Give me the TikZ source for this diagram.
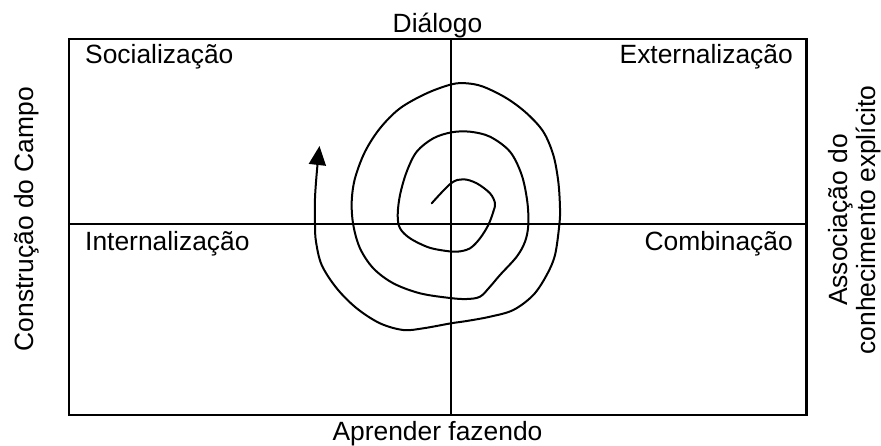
\documentclass[tikz,border=0pt]{standalone}
\usepackage{fontspec}
\setmainfont{Liberation Sans}
\usetikzlibrary{arrows.meta}
\begin{document}
\begin{tikzpicture}[x=1pt,y=-1pt,
  lbl/.style={inner sep=0pt,font=\fontsize{26.4}{29}\selectfont},
  frame/.style={line width=2.2pt},
  spiral/.style={line width=2pt,line cap=round,line join=round}]
\useasboundingbox (0,0) rectangle (881,445);
% frame and axes
\draw[frame] (69,39) rectangle (806.5,415);
\coordinate (vt) at (451,39);
\coordinate (vb) at (451,415);
\coordinate (hl) at (69,224);
\coordinate (hr) at (806.5,224);
\draw[frame] (vt) -- (vb);
\draw[frame] (hl) -- (hr);
% labels
\node[lbl,anchor=base west] (soc) at (85,63.5) {Socialização};
\node[lbl,anchor=base east] (ext) at (793,63) {Externalização};
\node[lbl,anchor=base west] (int) at (85,250) {Internalização};
\node[lbl,anchor=base east] (com) at (793,250) {Combinação};
\node[lbl,anchor=base] (dia) at (437.5,32) {Diálogo};
\node[lbl,anchor=base] (apr) at (437.5,440) {Aprender fazendo};
\node[lbl,anchor=base,rotate=90] (cons) at (34,219) {Construção do Campo};
\node[lbl,anchor=base,rotate=90] (ass1) at (847,220) {Associação do};
\node[lbl,anchor=base,rotate=90] (ass2) at (875,220) {conhecimento explícito};
% spiral
\draw[spiral,-{Triangle[length=19pt,width=17pt]}] plot[smooth,tension=0.55] coordinates {
(431.7,203.3) (451,183.3) (463.3,179.3) (476.7,183.3) (490,193.3) (495,203.3)
(493.3,211.7) (488.3,225) (480,238.3) (470,248.3) (456.7,251.7) (440,250)
(426.7,246.7) (410,238.3) (400,228.3) (397.7,215) (400,195) (406.7,171.7)
(416.7,151.7) (433.3,138.3) (451.7,132.3) (470,131.7) (490,136.7) (510,151.7)
(521.7,175) (527.3,201.7) (528.3,225) (525,241.7) (516.7,256.7) (500,275)
(490,286.7) (480,296.7) (466.7,299) (450,298) (420,293.3) (393.3,283.3)
(373.3,268.3) (360,248.3) (353.3,225) (351.7,201.7) (355,178.3) (365,151.7)
(380,128.3) (400,108.3) (426.7,93.3) (451.7,84.3) (466.7,83.3) (483.3,86.7)
(506.7,98.3) (526.7,113.3) (543.3,131.7) (553.3,155) (558.3,181.7) (560,208.3)
(559.3,225) (555,255) (546.7,275) (533.3,295) (513.3,310) (490,316.7)
(466.7,321) (451,323.3) (423.3,328.3) (403.3,330) (380,323.3) (356.7,308.3)
(336.7,288.3) (321.7,265) (316,241.7) (315,225) (315,198.3) (317,170) (319.5,146)};
\end{tikzpicture}
\end{document}
